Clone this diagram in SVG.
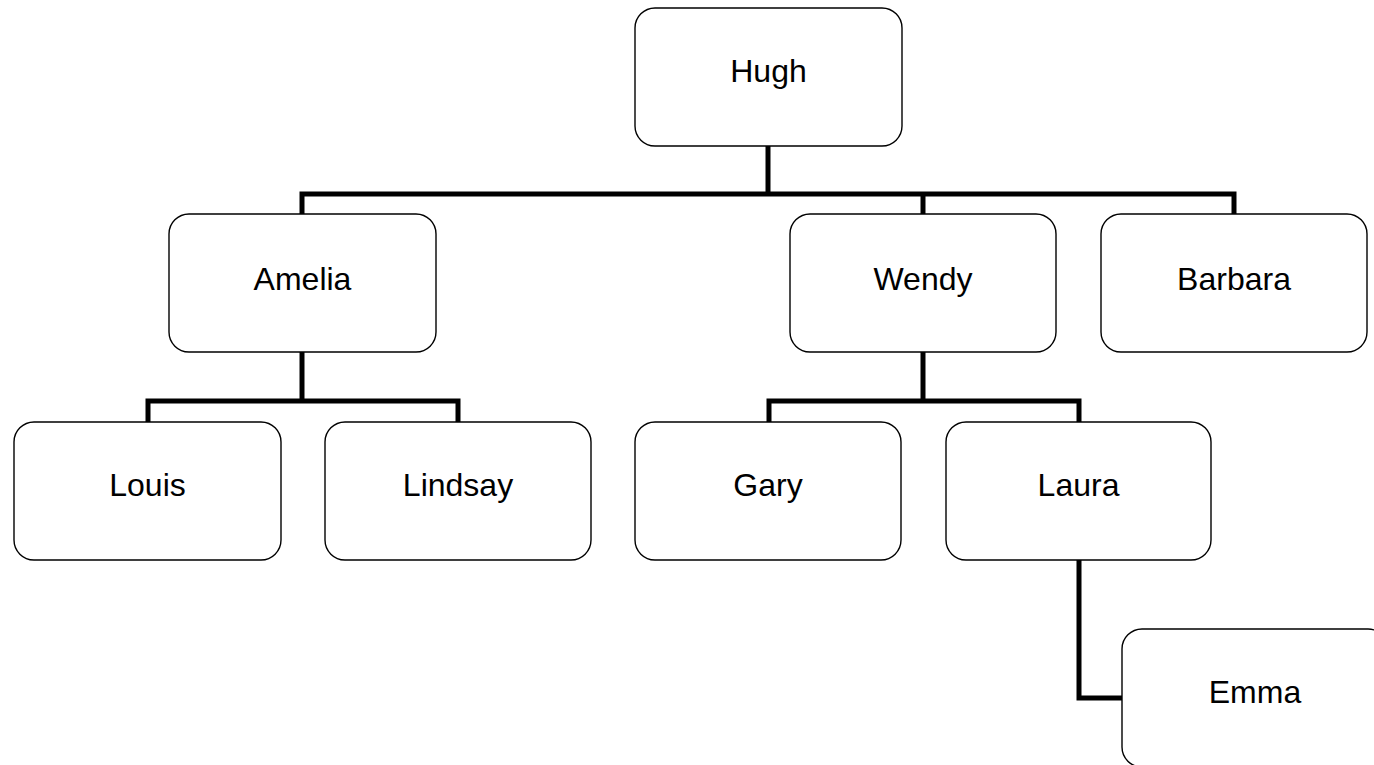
<svg xmlns="http://www.w3.org/2000/svg" width="1374" height="765" viewBox="0 0 1374 765">
<style>
.box{fill:#fff;stroke:#000;stroke-width:1.4}
.lbl{font-family:"Liberation Sans",Arial,sans-serif;font-size:32px;fill:#000;text-anchor:middle}
.conn{fill:none;stroke:#000;stroke-width:5;stroke-linejoin:miter;stroke-linecap:butt}
</style>
<rect width="1374" height="765" fill="#fff"/>
<g id="connectors" class="conn">
<path d="M768,146 V194"/>
<path d="M302,214 V194 H1234 V214"/>
<path d="M923,194 V214"/>
<path d="M302,352 V401"/>
<path d="M148,422 V401 H458 V422"/>
<path d="M923,352 V401"/>
<path d="M769,422 V401 H1079 V422"/>
<path d="M1079,560 V698 H1122"/>
</g>
<g id="hugh"><rect class="box" x="635" y="8" width="267" height="138" rx="20"/><text class="lbl" x="768.5" y="82">Hugh</text></g>
<g id="amelia"><rect class="box" x="169" y="214" width="267" height="138" rx="20"/><text class="lbl" x="302.5" y="290">Amelia</text></g>
<g id="wendy"><rect class="box" x="790" y="214" width="266" height="138" rx="20"/><text class="lbl" x="923" y="290">Wendy</text></g>
<g id="barbara"><rect class="box" x="1101" y="214" width="266" height="138" rx="20"/><text class="lbl" x="1234" y="290">Barbara</text></g>
<g id="louis"><rect class="box" x="14" y="422" width="267" height="138" rx="20"/><text class="lbl" x="147.5" y="496">Louis</text></g>
<g id="lindsay"><rect class="box" x="325" y="422" width="266" height="138" rx="20"/><text class="lbl" x="458" y="496">Lindsay</text></g>
<g id="gary"><rect class="box" x="635" y="422" width="266" height="138" rx="20"/><text class="lbl" x="768" y="496">Gary</text></g>
<g id="laura"><rect class="box" x="946" y="422" width="265" height="138" rx="20"/><text class="lbl" x="1078.5" y="496">Laura</text></g>
<g id="emma"><rect class="box" x="1122" y="629" width="266" height="138" rx="20"/><text class="lbl" x="1255" y="703">Emma</text></g>
</svg>
